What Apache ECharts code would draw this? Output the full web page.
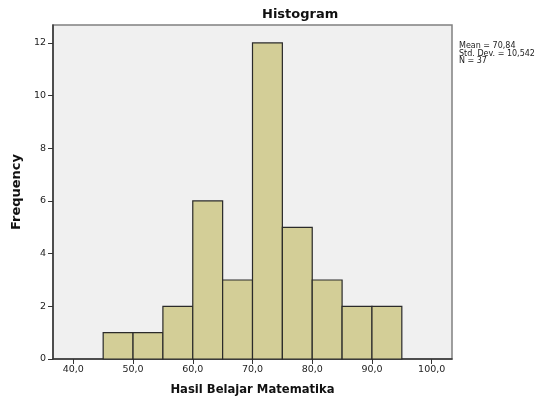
<!DOCTYPE html>
<html>
<head>
<meta charset="utf-8">
<script src="https://cdn.jsdelivr.net/npm/echarts@6/dist/echarts.min.js"></script>
<style>
html,body{margin:0;padding:0;background:#fff;}
#chart{width:545px;height:398px;}
</style>
</head>
<body>
<div id="chart"></div>
<script>
// histogram bins (lower edge) and frequencies
var binStart = [45, 50, 55, 60, 65, 70, 75, 80, 85, 90];
var binWidth = 5;
var counts = [1, 1, 2, 6, 3, 12, 5, 3, 2, 2];
var xTicks = [40, 50, 60, 70, 80, 90, 100];
var yTicks = [0, 2, 4, 6, 8, 10, 12];
var stats = ['Mean = 70,84', 'Std. Dev. = 10,542', 'N = 37'];

var bars = [];
for (var i = 0; i < binStart.length; i++) {
	bars.push([binStart[i], binStart[i] + binWidth, counts[i]]);
}

var myChart = echarts.init(document.getElementById('chart'));
var font = 'DejaVu Sans';
var option = {
	backgroundColor: '#fff',
	animation: false,
	title: {
		text: 'Histogram',
		left: 262,
		top: 8,
		padding: 0,
		textStyle: {fontFamily: font, fontSize: 13, fontWeight: 'bold', color: '#111'}
	},
	grid: {
		left: 53, top: 25, width: 399, height: 334,
		outerBoundsMode: 'none',
		show: true,
		backgroundColor: '#f0f0f0',
		borderColor: '#808080',
		borderWidth: 1.5
	},
	graphic: [{
		type: 'text',
		left: 459,
		top: 42,
		style: {
			text: stats.join('\n'),
			font: '8px "DejaVu Sans"',
			lineHeight: 7.6,
			fill: '#222'
		}
	}],
	xAxis: {
		type: 'value',
		min: 36.6,
		max: 103.4,
		name: 'Hasil Belajar Matematika',
		nameLocation: 'middle',
		nameGap: 25,
		nameTextStyle: {fontFamily: font, fontSize: 11.6, fontWeight: 'bold', color: '#111'},
		axisLine: {show: true, onZero: false, lineStyle: {color: '#333', width: 1.5}},
		axisTick: {show: true, length: 5, customValues: xTicks, lineStyle: {color: '#333'}},
		axisLabel: {
			customValues: xTicks,
			margin: 6,
			fontFamily: font, fontSize: 9.5, color: '#222',
			formatter: function (v) { return v.toFixed(1).replace('.', ','); }
		},
		splitLine: {show: false}
	},
	yAxis: {
		type: 'value',
		min: 0,
		max: 12.68,
		name: 'Frequency',
		nameLocation: 'middle',
		nameGap: 30,
		nameRotate: 90,
		nameTextStyle: {fontFamily: font, fontSize: 13, fontWeight: 'bold', color: '#111'},
		axisLine: {show: true, lineStyle: {color: '#333', width: 1.5}},
		axisTick: {show: true, length: 5, customValues: yTicks, lineStyle: {color: '#333'}},
		axisLabel: {
			customValues: yTicks,
			margin: 7,
			fontFamily: font, fontSize: 9.5, color: '#222'
		},
		splitLine: {show: false}
	},
	series: [{
		type: 'custom',
		data: bars,
		encode: {x: [0, 1], y: 2},
		renderItem: function (params, api) {
			var p0 = api.coord([api.value(0), api.value(2)]);
			var p1 = api.coord([api.value(1), 0]);
			return {
				type: 'rect',
				shape: {x: p0[0], y: p0[1], width: p1[0] - p0[0], height: p1[1] - p0[1]},
				style: {fill: '#d3ce97', stroke: '#2a2a2a', lineWidth: 1.2}
			};
		}
	}]
};
myChart.setOption(option);
</script>
</body>
</html>
